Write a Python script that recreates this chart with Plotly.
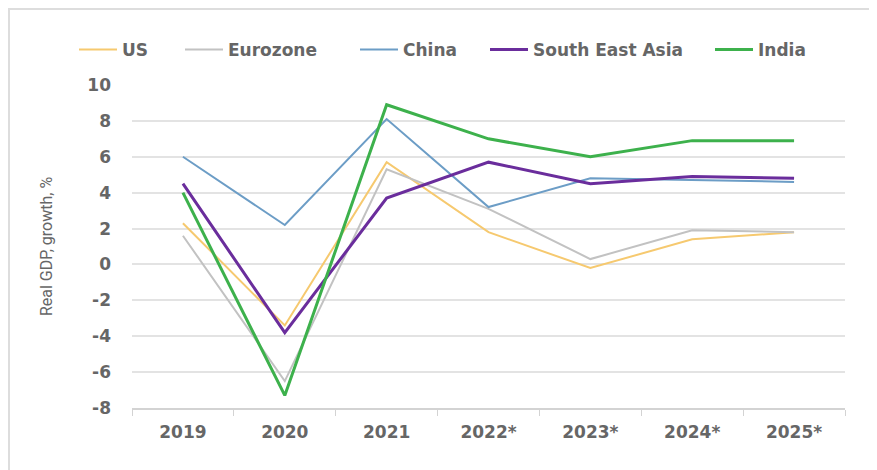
import plotly.graph_objects as go

years = ["2019", "2020", "2021", "2022*", "2023*", "2024*", "2025*"]

us = [2.3, -3.4, 5.7, 1.8, -0.2, 1.4, 1.8]
eurozone = [1.6, -6.5, 5.3, 3.1, 0.3, 1.9, 1.8]
china = [6.0, 2.2, 8.1, 3.2, 4.8, 4.7, 4.6]
sea = [4.5, -3.8, 3.7, 5.7, 4.5, 4.9, 4.8]
india = [4.0, -7.3, 8.9, 7.0, 6.0, 6.9, 6.9]

y_ticks = [-8, -6, -4, -2, 0, 2, 4, 6, 8, 10]
y_labels = ["-8", "-6", "-4", "-2", "0", "2", "4", "6", "8", "10"]

series = [
    ("US", us, "#F6C96F", 2),
    ("Eurozone", eurozone, "#C2C2C2", 2),
    ("China", china, "#6C9DC6", 2),
    ("South East Asia", sea, "#6A2D9C", 3),
    ("India", india, "#3DB14C", 3),
]

# page has an 8px body margin, so figure coords = page coords - 8
FW, FH = 869, 462
L, W, T, H = 124, 713, 77, 323
legend_px = [66, 172, 347, 477, 702]

TEXT = "#666666"
FONT = "DejaVu Sans, sans-serif"

fig = go.Figure()
legends = {}
for i, (name, vals, color, width) in enumerate(series):
    key = "legend" if i == 0 else f"legend{i + 1}"
    fig.add_trace(go.Scatter(x=years, y=vals, name=name, mode="lines",
                             line=dict(color=color, width=width),
                             legend=key))
    legends[key] = dict(orientation="h", x=(legend_px[i] - L) / W,
                        y=1 + (T - 42) / H, xanchor="left", yanchor="middle",
                        font=dict(family=FONT, size=17, color=TEXT, weight="bold"),
                        itemwidth=38, bgcolor="rgba(0,0,0,0)")

fig.update_layout(
    width=FW, height=FH,
    margin=dict(l=L, r=FW - L - W, t=T, b=FH - T - H, autoexpand=False),
    paper_bgcolor="white", plot_bgcolor="white",
    font=dict(family=FONT, size=17, color=TEXT),
    showlegend=True,
    shapes=[dict(type="rect", xref="paper", yref="paper",
                 x0=(1 - L) / W, x1=1.2, y0=-0.4, y1=1 + (T - 1) / H,
                 line=dict(color="#DDDDDD", width=2), layer="below")],
    **legends,
)

fig.update_xaxes(
    type="category", showgrid=False, showline=True, linecolor="#D3D3D3", linewidth=1.5,
    ticks="outside", tickson="boundaries", ticklen=6, tickcolor="#D3D3D3",
    ticklabelstandoff=8, range=[-0.5, 6.5],
    tickfont=dict(family=FONT, size=17, color=TEXT, weight="bold"),
)
fig.update_yaxes(
    range=[-8, 10], tickmode="array", tickvals=y_ticks, ticktext=y_labels,
    showgrid=True, gridcolor="#E3E3E3", gridwidth=1.5,
    zeroline=False, showline=False, ticklabelstandoff=20,
    tickfont=dict(family=FONT, size=17, color=TEXT, weight="bold"),
    title=dict(text="Real GDP, growth, %", font=dict(family="Roboto, sans-serif", size=16, color=TEXT),
               standoff=30),
)

fig.write_html("out.html")
